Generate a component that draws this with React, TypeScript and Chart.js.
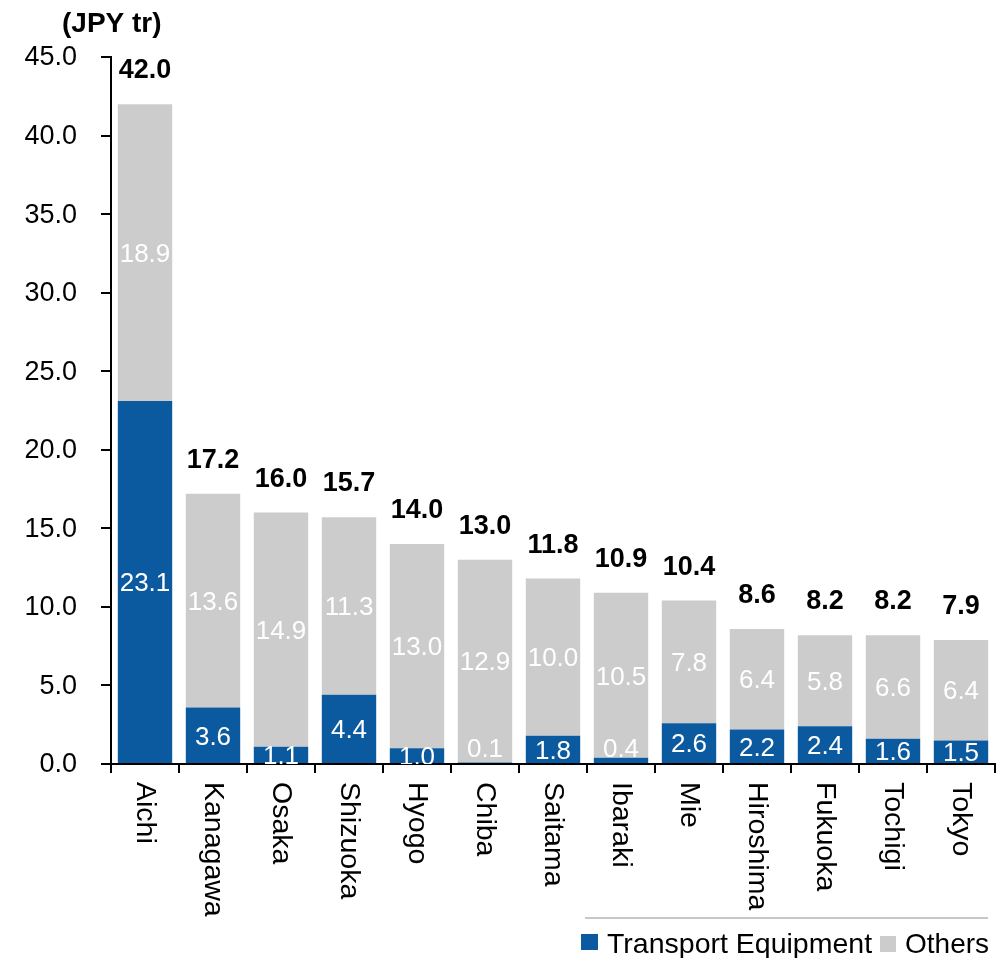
import { useEffect, useRef } from "react";
import { Chart, registerables } from "chart.js";

Chart.register(...registerables);

const categories = [
  "Aichi", "Kanagawa", "Osaka", "Shizuoka", "Hyogo", "Chiba", "Saitama",
  "Ibaraki", "Mie", "Hiroshima", "Fukuoka", "Tochigi", "Tokyo",
];
const transportEquipment = [23.1, 3.6, 1.1, 4.4, 1.0, 0.1, 1.8, 0.4, 2.6, 2.2, 2.4, 1.6, 1.5];
const others = [18.9, 13.6, 14.9, 11.3, 13.0, 12.9, 10.0, 10.5, 7.8, 6.4, 5.8, 6.6, 6.4];
const totals = [42.0, 17.2, 16.0, 15.7, 14.0, 13.0, 11.8, 10.9, 10.4, 8.6, 8.2, 8.2, 7.9];
const seriesNames = ["Transport Equipment", "Others"];
const yMin = 0;
const yMax = 45;
const yStep = 5;
const unitLabel = "(JPY tr)";

const BLUE = "#0B5A9F";
const GRAY = "#CCCCCC";
const FONT = '"Liberation Sans", Arial, sans-serif';

function drawText(
  ctx: CanvasRenderingContext2D,
  text: string,
  x: number,
  y: number,
  opts: { size: number; bold?: boolean; align?: CanvasTextAlign; baseline?: CanvasTextBaseline; color?: string; rotate?: number }
) {
  ctx.save();
  ctx.translate(x, y);
  if (opts.rotate) ctx.rotate(opts.rotate);
  ctx.font = `${opts.bold ? "bold " : ""}${opts.size}px ${FONT}`;
  ctx.textAlign = opts.align || "left";
  ctx.textBaseline = opts.baseline || "alphabetic";
  ctx.fillStyle = opts.color || "#000";
  ctx.fillText(text, 0, 0);
  ctx.restore();
}

const labelPlugin = {
  id: "customLabels",
  afterDatasetsDraw(chart: any) {
    const ctx: CanvasRenderingContext2D = chart.ctx;
    const area = chart.chartArea;
    // segment labels (clipped to plot area)
    ctx.save();
    ctx.beginPath();
    ctx.rect(area.left, 0, area.right - area.left, area.bottom);
    ctx.clip();
    chart.data.datasets.forEach((ds: any, di: number) => {
      const meta = chart.getDatasetMeta(di);
      meta.data.forEach((bar: any, i: number) => {
        const p = bar.getProps(["x", "y", "base"], true);
        const h = p.base - p.y;
        let cy = (p.y + p.base) / 2;
        if (h < 10) cy = p.base - 15;
        drawText(ctx, Number(ds.data[i]).toFixed(1), p.x, cy + 9.3, {
          size: 26,
          align: "center",
          color: "#FFFFFF",
        });
      });
    });
    ctx.restore();
    // totals above bars
    const lastMeta = chart.getDatasetMeta(chart.data.datasets.length - 1);
    lastMeta.data.forEach((bar: any, i: number) => {
      const p = bar.getProps(["x", "y"], true);
      drawText(ctx, totals[i].toFixed(1), p.x, p.y - 26, { size: 27, bold: true, align: "center" });
    });
  },
  afterDraw(chart: any) {
    const ctx: CanvasRenderingContext2D = chart.ctx;
    const yScale = chart.scales.y;
    const xScale = chart.scales.x;
    // y tick labels
    yScale.ticks.forEach((t: any) => {
      const py = yScale.getPixelForValue(t.value);
      drawText(ctx, Number(t.value).toFixed(1), 77, py + 1, { size: 27, align: "right", baseline: "middle" });
    });
    // unit title
    drawText(ctx, unitLabel, 62, 32, { size: 28, bold: true });
    // category labels rotated
    categories.forEach((c, i) => {
      const px = xScale.getPixelForValue(i);
      drawText(ctx, c, px, 782, { size: 28.5, align: "left", baseline: "middle", rotate: Math.PI / 2 });
    });
    // legend
    ctx.save();
    ctx.strokeStyle = "#C8C8C8";
    ctx.lineWidth = 2;
    ctx.beginPath();
    ctx.moveTo(585, 918);
    ctx.lineTo(988, 918);
    ctx.stroke();
    ctx.fillStyle = BLUE;
    ctx.fillRect(581, 934, 17, 16);
    ctx.fillStyle = GRAY;
    ctx.fillRect(880, 936, 16, 16);
    ctx.restore();
    drawText(ctx, seriesNames[0], 607, 953, { size: 28.5 });
    drawText(ctx, seriesNames[1], 905, 953, { size: 28 });
  },
};

export default function App() {
  const ref = useRef<HTMLCanvasElement | null>(null);
  useEffect(() => {
    if (!ref.current) return;
    const chart = new Chart(ref.current, {
      type: "bar",
      data: {
        labels: categories,
        datasets: [
          {
            label: seriesNames[0],
            data: transportEquipment,
            backgroundColor: BLUE,
            borderWidth: 0,
            barPercentage: 0.8,
            categoryPercentage: 1.0,
          },
          {
            label: seriesNames[1],
            data: others,
            backgroundColor: GRAY,
            borderWidth: 0,
            barPercentage: 0.8,
            categoryPercentage: 1.0,
          },
        ],
      },
      options: {
        responsive: false,
        animation: false,
        devicePixelRatio: 1,
        layout: { padding: { top: 57, right: 9, left: 0, bottom: 0 } },
        plugins: {
          legend: { display: false },
          tooltip: { enabled: false },
          title: { display: false },
        },
        scales: {
          x: {
            stacked: true,
            ticks: { display: false },
            grid: {
              offset: true,
              drawOnChartArea: false,
              drawTicks: true,
              tickLength: 9,
              lineWidth: 2,
              color: "#000",
            },
            border: { display: true, color: "#000", width: 2 },
            afterFit: (s: any) => {
              s.height = 194;
            },
          },
          y: {
            stacked: true,
            min: yMin,
            max: yMax,
            ticks: { display: false, stepSize: yStep },
            grid: {
              drawOnChartArea: false,
              drawTicks: true,
              tickLength: 10,
              lineWidth: 2,
              color: "#000",
            },
            border: { display: true, color: "#000", width: 2 },
            afterFit: (s: any) => {
              s.width = 111;
            },
          },
        },
      },
      plugins: [labelPlugin],
    } as any);
    return () => chart.destroy();
  }, []);
  return (
    <div style={{ position: "fixed", left: 0, top: 0, width: 1004, height: 958, background: "#fff" }}>
      <canvas ref={ref} width={1004} height={958} style={{ display: "block" }} />
    </div>
  );
}
